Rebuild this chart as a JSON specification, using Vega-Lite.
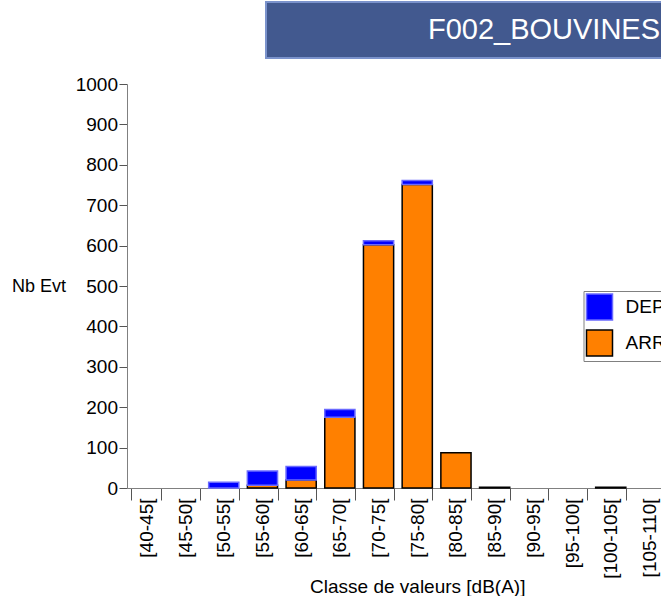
{
  "$schema": "https://vega.github.io/schema/vega-lite/v6.json",
  "padding": {"left": 11, "top": 1, "right": 0, "bottom": 0},
  "background": "white",
  "config": {
    "font": "Liberation Sans",
    "view": {"stroke": null},
    "axis": {"grid": false, "labelColor": "black", "titleColor": "black", "titleFontWeight": "normal", "domainColor": "#808080", "tickColor": "#555555"}
  },
  "datasets": {
    "header": [{"title": "F002_BOUVINES"}],
    "bars": [
      {"classe": "[50-55[", "type": "DEP", "nb": 14},
      {"classe": "[55-60[", "type": "ARR", "nb": 7},
      {"classe": "[55-60[", "type": "DEP", "nb": 35},
      {"classe": "[60-65[", "type": "ARR", "nb": 20},
      {"classe": "[60-65[", "type": "DEP", "nb": 33},
      {"classe": "[65-70[", "type": "ARR", "nb": 175},
      {"classe": "[65-70[", "type": "DEP", "nb": 19},
      {"classe": "[70-75[", "type": "ARR", "nb": 602},
      {"classe": "[70-75[", "type": "DEP", "nb": 10},
      {"classe": "[75-80[", "type": "ARR", "nb": 751},
      {"classe": "[75-80[", "type": "DEP", "nb": 10},
      {"classe": "[80-85[", "type": "ARR", "nb": 87},
      {"classe": "[85-90[", "type": "ARR", "nb": 2},
      {"classe": "[100-105[", "type": "ARR", "nb": 2}
    ]
  },
  "spacing": 16,
  "vconcat": [
    {
      "spacing": 0,
      "hconcat": [
        {
          "data": {"name": "header"},
          "width": 138,
          "height": 56,
          "mark": {"type": "text", "opacity": 0},
          "encoding": {}
        },
        {
          "data": {"name": "header"},
          "width": 556,
          "height": 56,
          "view": {"fill": "#42598F", "stroke": "#7B93CC", "strokeWidth": 2},
          "mark": {"type": "text", "color": "white", "fontSize": 29, "align": "center", "baseline": "middle"},
          "encoding": {"text": {"field": "title"}}
        }
      ]
    },
    {
      "data": {"name": "bars"},
      "width": 580.5,
      "height": 404,
      "mark": {"type": "bar", "strokeWidth": 1.5},
      "encoding": {
        "x": {
          "field": "classe",
          "type": "nominal",
          "sort": ["[40-45[", "[45-50[", "[50-55[", "[55-60[", "[60-65[", "[65-70[", "[70-75[", "[75-80[", "[80-85[", "[85-90[", "[90-95[", "[95-100[", "[100-105[", "[105-110[", "[110-115["],
          "scale": {
            "domain": ["[40-45[", "[45-50[", "[50-55[", "[55-60[", "[60-65[", "[65-70[", "[70-75[", "[75-80[", "[80-85[", "[85-90[", "[90-95[", "[95-100[", "[100-105[", "[105-110[", "[110-115["],
            "paddingInner": 0.22,
            "paddingOuter": 0.11
          },
          "axis": {
            "title": "Classe de valeurs [dB(A)]",
            "titleFontSize": 19,
            "titleY": 104,
            "titleBaseline": "alphabetic",
            "labelAngle": -90,
            "labelFontSize": 19,
            "tickBand": "extent",
            "tickSize": 12,
            "labelPadding": -2
          }
        },
        "y": {
          "field": "nb",
          "type": "quantitative",
          "stack": "zero",
          "scale": {"domain": [0, 1000], "nice": false},
          "axis": {
            "title": "Nb Evt",
            "titleAngle": 0,
            "titleAlign": "right",
            "titleBaseline": "middle",
            "titleX": -61.5,
            "titleY": 202,
            "titleFontSize": 18,
            "format": "d",
            "values": [0, 100, 200, 300, 400, 500, 600, 700, 800, 900, 1000],
            "labelFontSize": 19,
            "tickSize": 8,
            "labelPadding": 1.5
          }
        },
        "order": {"field": "type", "sort": "ascending"},
        "color": {
          "field": "type",
          "type": "nominal",
          "scale": {"domain": ["DEP", "ARR"], "range": ["#0000FF", "#FF8000"]},
          "legend": {
            "title": null, "orient": "none", "legendX": 456.5, "legendY": 289,
            "symbolType": "square", "symbolSize": 676, "symbolStrokeWidth": 1.5,
            "labelFontSize": 19, "labelColor": "black", "labelOffset": 12,
            "rowPadding": 4, "padding": 2, "strokeColor": "#808080", "fillColor": "white"
          }
        },
        "stroke": {
          "field": "type",
          "type": "nominal",
          "scale": {"domain": ["DEP", "ARR"], "range": ["#6A6AFF", "#000000"]},
          "legend": {
            "title": null, "orient": "none", "legendX": 456.5, "legendY": 289,
            "symbolType": "square", "symbolSize": 676, "symbolStrokeWidth": 1.5,
            "labelFontSize": 19, "labelColor": "black", "labelOffset": 12,
            "rowPadding": 4, "padding": 2, "strokeColor": "#808080", "fillColor": "white"
          }
        }
      }
    }
  ]
}
